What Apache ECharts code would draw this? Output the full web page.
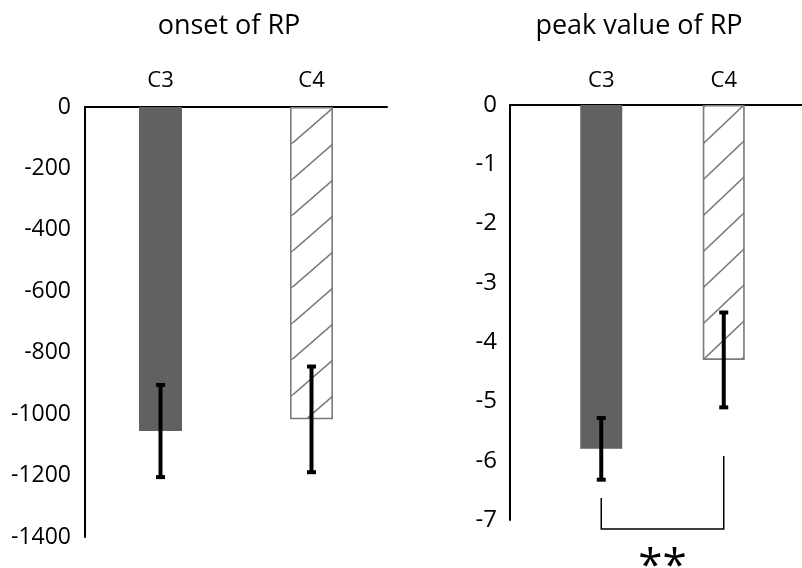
<!DOCTYPE html>
<html><head><meta charset="utf-8">
<script src="https://cdn.jsdelivr.net/npm/echarts@6/dist/echarts.min.js"></script>
<style>html,body{margin:0;padding:0;background:#fff}#c{width:802px;height:568px}</style>
</head><body><div id="c"></div>
<script>
// ---- data ----
const categories = ['C3', 'C4'];
const onsetMeans = [-1055, -1017];
const onsetErr = [150, 172];
const onsetAxis = { min: -1400, max: 0, interval: 200 };
const peakMeans = [-5.80, -4.30];
const peakErr = [0.52, 0.80];
const peakAxis = { min: -7, max: 0, interval: 1 };
const sigBracket = [[0, -6.63, 1, -5.92, -7.15, -7.80]]; // [cat1, top1, cat2, top2, bottom, labelY]
const sigLabel = '**';
const titles = ['onset of RP', 'peak value of RP'];

const FONT = '"Open Sans", "Noto Sans", sans-serif';
const SOLID = '#616161';
const HATCH = '#7a7a7a';

function makeHatch(w, h, color, lw) {
  const c = document.createElement('canvas');
  c.width = w; c.height = h;
  const g = c.getContext('2d');
  g.fillStyle = '#fff'; g.fillRect(0, 0, w, h);
  g.strokeStyle = color; g.lineWidth = lw;
  for (const k of [0, 1, 2]) {
    const x1 = -w, y1 = (k - x1 / w) * h;
    const x2 = 2 * w, y2 = (k - x2 / w) * h;
    g.beginPath(); g.moveTo(x1, y1); g.lineTo(x2, y2); g.stroke();
  }
  return c;
}

function hatchPattern(w, h, ox, oy) {
  return { image: makeHatch(w, h, HATCH, 1.6), repeat: 'repeat', x: ox, y: oy };
}

function barData(means, pattern) {
  return means.map((v, i) => i === 0
    ? { value: v, itemStyle: { color: SOLID } }
    : { value: v, itemStyle: { color: pattern, borderColor: HATCH, borderWidth: 1.6 } });
}

function errData(means, errs) { return means.map((m, i) => [i, m, errs[i]]); }

function errRender(params, api) {
  const x = api.value(0), m = api.value(1), e = api.value(2);
  const t = api.coord([x, m + e]), b = api.coord([x, m - e]);
  const cx = t[0], cw = 9, ch = 4;
  return { type: 'group', children: [
    { type: 'line', shape: { x1: cx, y1: t[1], x2: cx, y2: b[1] }, style: { stroke: '#000', lineWidth: 4 } },
    { type: 'rect', shape: { x: cx - cw / 2, y: t[1] - ch / 2, width: cw, height: ch }, style: { fill: '#000' } },
    { type: 'rect', shape: { x: cx - cw / 2, y: b[1] - ch / 2, width: cw, height: ch }, style: { fill: '#000' } }
  ]};
}

function bracketRender(params, api) {
  const p1 = api.coord([api.value(0), api.value(1)]);
  const p2 = api.coord([api.value(2), api.value(3)]);
  const b1 = api.coord([api.value(0), api.value(4)]);
  const b2 = api.coord([api.value(2), api.value(4)]);
  const lab = api.coord([api.value(0), api.value(5)]);
  return { type: 'group', children: [
    { type: 'polyline', shape: { points: [p1, b1, b2, p2] }, style: { stroke: '#000', lineWidth: 1.5, fill: null } },
    { type: 'text', x: (b1[0] + b2[0]) / 2, y: lab[1], style: { text: sigLabel, fill: '#000', font: '44px ' + FONT, align: 'center', verticalAlign: 'middle' } }
  ]};
}

const plain = v => String(v);
const chart = echarts.init(document.getElementById('c'), null, { renderer: 'canvas' });
const axisLine = { show: true, onZero: false, lineStyle: { color: '#000', width: 2 } };
chart.setOption({
  animation: false,
  backgroundColor: '#fff',
  title: [
    { text: titles[0], left: 224, top: 8, textAlign: 'center', textStyle: { fontFamily: FONT, fontWeight: 'normal', fontSize: 27, color: '#000' } },
    { text: titles[1], left: 634, top: 8, textAlign: 'center', textStyle: { fontFamily: FONT, fontWeight: 'normal', fontSize: 27, color: '#000' } }
  ],
  grid: [
    { left: 85, top: 107, width: 302, height: 430 },
    { left: 540, top: 105, width: 245, height: 415 },
    { left: 510, top: 105, width: 292, height: 415 }
  ],
  xAxis: [
    { type: 'category', gridIndex: 0, position: 'top', data: categories, axisLine, axisTick: { show: false },
      axisLabel: { fontFamily: FONT, fontSize: 22, color: '#000', margin: 15 } },
    { type: 'category', gridIndex: 1, position: 'top', data: categories, axisLine: { show: false }, axisTick: { show: false },
      axisLabel: { fontFamily: FONT, fontSize: 22, color: '#000', margin: 13 } },
    { type: 'category', gridIndex: 2, position: 'top', data: [''], axisLine, axisTick: { show: false }, axisLabel: { show: false } }
  ],
  yAxis: [
    { type: 'value', gridIndex: 0, min: onsetAxis.min, max: onsetAxis.max, interval: onsetAxis.interval,
      axisLine, axisTick: { show: false }, splitLine: { show: false },
      axisLabel: { fontFamily: FONT, fontSize: 23, color: '#000', margin: 14, formatter: plain } },
    { type: 'value', gridIndex: 1, min: peakAxis.min, max: peakAxis.max, interval: peakAxis.interval, offset: 30,
      axisLine, axisTick: { show: false }, splitLine: { show: false },
      axisLabel: { fontFamily: FONT, fontSize: 24, color: '#000', margin: 13, formatter: plain } },
    { type: 'value', gridIndex: 2, min: 0, max: 1, show: false }
  ],
  series: [
    { type: 'bar', xAxisIndex: 0, yAxisIndex: 0, barWidth: 43, data: barData(onsetMeans, hatchPattern(42, 36.5, 334, 107)) },
    { type: 'custom', xAxisIndex: 0, yAxisIndex: 0, renderItem: errRender, data: errData(onsetMeans, onsetErr), z: 5, clip: false },
    { type: 'bar', xAxisIndex: 1, yAxisIndex: 1, barWidth: 42, data: barData(peakMeans, hatchPattern(38, 36, 744, 105)) },
    { type: 'custom', xAxisIndex: 1, yAxisIndex: 1, renderItem: errRender, data: errData(peakMeans, peakErr), z: 5, clip: false },
    { type: 'custom', xAxisIndex: 1, yAxisIndex: 1, renderItem: bracketRender, data: sigBracket, z: 5, clip: false }
  ]
});
</script></body></html>
